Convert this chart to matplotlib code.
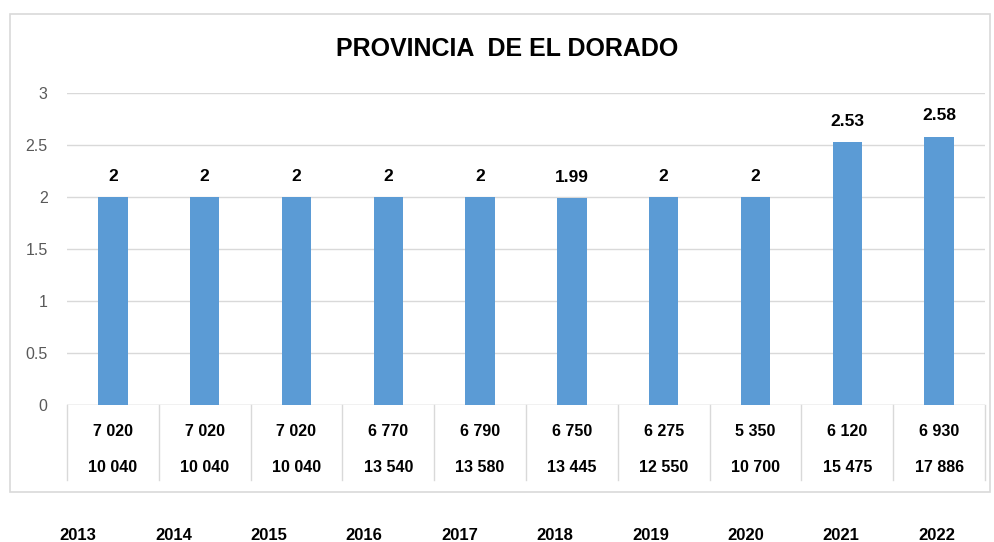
import matplotlib.pyplot as plt
from matplotlib.patches import Rectangle

years = ["2013", "2014", "2015", "2016", "2017", "2018", "2019", "2020", "2021", "2022"]
values = [2, 2, 2, 2, 2, 1.99, 2, 2, 2.53, 2.58]
row1 = [7020, 7020, 7020, 6770, 6790, 6750, 6275, 5350, 6120, 6930]
row2 = [10040, 10040, 10040, 13540, 13580, 13445, 12550, 10700, 15475, 17886]

plt.rcParams['font.family'] = ['Liberation Sans', 'DejaVu Sans']

W, H = 994, 542
fig = plt.figure(figsize=(W / 100, H / 100), dpi=100)
ax = fig.add_axes([67 / W, 1 - 405 / H, (985 - 67) / W, (405 - 93) / H])

grid_c = "#d9d9d9"
x = range(len(years))
ax.bar(x, values, width=0.32, color="#5B9BD5", zorder=3)
ax.set_xlim(-0.5, len(years) - 0.5)
ax.set_ylim(0, 3)
ax.set_yticks([0, 0.5, 1, 1.5, 2, 2.5, 3])
ax.set_yticklabels(["0", "0.5", "1", "1.5", "2", "2.5", "3"])
ax.tick_params(axis="y", length=0, labelsize=11.5, labelcolor="#595959", pad=14)
ax.set_xticks([])
ax.yaxis.grid(True, color=grid_c, linewidth=1)
ax.set_axisbelow(True)
for s in ax.spines.values():
    s.set_visible(False)
ax.axhline(0, color=grid_c, linewidth=1, zorder=2)

for i, v in enumerate(values):
    ax.annotate(f"{v:g}", (i, v), xytext=(0, 9.5), textcoords="offset points",
                ha="center", va="bottom", fontsize=12.5, fontweight="bold")

# data table under the axis
tr = ax.get_xaxis_transform()
y_bot = -75 / 312
for b in range(len(years) + 1):
    ax.plot([b - 0.5, b - 0.5], [0, y_bot], transform=tr, color=grid_c,
            linewidth=1, clip_on=False)
fmt = lambda n: f"{n:,}".replace(",", " ")
for i in x:
    ax.text(i, -27 / 312, fmt(row1[i]), transform=tr, ha="center", va="center",
            fontsize=11.5, fontweight="bold")
    ax.text(i, -63 / 312, fmt(row2[i]), transform=tr, ha="center", va="center",
            fontsize=11.5, fontweight="bold")

fig.text(0.51, 1 - 49 / H, "PROVINCIA  DE EL DORADO", ha="center", va="center",
         fontsize=18, fontweight="bold")

# outer chart frame
fig.patches.append(Rectangle((10 / W, 1 - 492 / H), (990 - 10) / W, (492 - 14) / H,
                             transform=fig.transFigure, fill=False,
                             edgecolor=grid_c, linewidth=1.2))

for i, y in enumerate(years):
    fig.text((78 + 95.4 * i) / W, 1 - 535 / H, y, ha="center", va="center",
             fontsize=12, fontweight="bold")

fig.savefig("out.png", dpi=100, facecolor="white")
